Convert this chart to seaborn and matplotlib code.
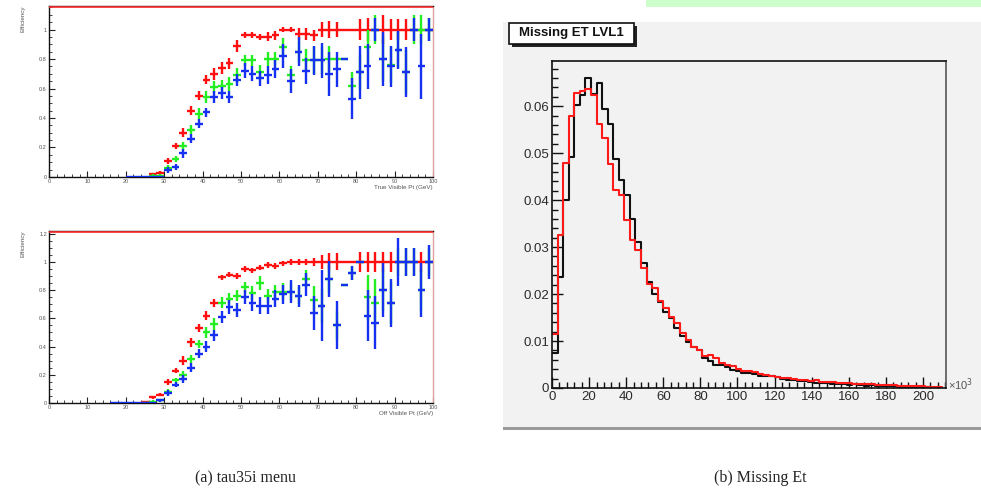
import numpy as np
import pandas as pd
import matplotlib
matplotlib.use("Agg")
import matplotlib.pyplot as plt
from matplotlib.ticker import MultipleLocator, FuncFormatter
from matplotlib.patches import Rectangle
import seaborn as sns

sns.set_theme(style="ticks")
plt.rcParams['font.family'] = ['Liberation Sans', 'DejaVu Sans']

# --- efficiency, tau35i menu (top: true visible pt)
pt_top = np.arange(21, 100, 2)
red_top = [np.nan, np.nan, np.nan,
           0.02, 0.03, 0.11, 0.21, 0.30, 0.45, 0.55, 0.66, 0.70, 0.74, 0.77, 0.89, 0.96, 0.96,
           0.95, 0.95, 0.96, 1.0, 1.0, 0.97, 0.97, 0.96, 1.0, 1.0, 1.0, 1.0, 1.0, 1.0, 1.0,
           1.0, 1.0, 1.0, 1.0, 1.0, 1.0, 1.0, 1.0]
red_top_err = [0, 0, 0,
               0.01, 0.01, 0.02, 0.02, 0.03, 0.03, 0.03, 0.03, 0.04, 0.04, 0.04, 0.04, 0.02, 0.02,
               0.02, 0.03, 0.03, 0.02, 0.02, 0.04, 0.04, 0.04, 0.05, 0.06, 0.05, 0.0, 0.0, 0.07,
               0.08, 0.0, 0.10, 0.07, 0.07, 0.07, 0.0, 0.0, 0.0]
green_top = [np.nan, np.nan, np.nan,
             0.01, 0.01, 0.06, 0.12, 0.21, 0.32, 0.43, 0.54, 0.61, 0.62, 0.63, 0.69, 0.79, 0.79,
             0.71, 0.80, 0.80, 0.88, 0.69, 0.85, 0.79, 0.79, 0.79, 0.80, 0.80, 0.80, 0.62, 0.71,
             0.88, 1.0, 0.80, 0.76, 0.86, 0.71, 1.0, 1.0, 1.0]
green_top_err = [0, 0, 0,
                 0.01, 0.01, 0.02, 0.02, 0.03, 0.03, 0.04, 0.04, 0.04, 0.04, 0.05, 0.05, 0.04, 0.04,
                 0.05, 0.05, 0.05, 0.06, 0.06, 0.07, 0.08, 0.09, 0.09, 0.09, 0.0, 0.0, 0.09, 0.12,
                 0.12, 0.10, 0.15, 0.12, 0.12, 0.15, 0.10, 0.10, 0.08]
blue_top = [0.0, 0.0, 0.0,
            0.0, 0.0, 0.05, 0.07, 0.16, 0.26, 0.36, 0.44, 0.54, 0.57, 0.54, 0.66, 0.72, 0.70,
            0.67, 0.69, 0.73, 0.82, 0.65, 0.85, 0.72, 0.79, 0.79, 0.70, 0.73, 0.80, 0.53, 0.71,
            0.75, 1.0, 0.80, 0.75, 0.86, 0.71, 1.0, 0.75, 1.0]
blue_top_err = [0, 0, 0,
                0.0, 0.0, 0.02, 0.02, 0.03, 0.03, 0.03, 0.03, 0.04, 0.04, 0.04, 0.04, 0.05, 0.05,
                0.05, 0.06, 0.06, 0.08, 0.08, 0.10, 0.09, 0.10, 0.12, 0.15, 0.12, 0.0, 0.14, 0.18,
                0.15, 0.08, 0.18, 0.14, 0.13, 0.17, 0.08, 0.22, 0.08]

# --- efficiency, tau35i menu (bottom: off visible pt)
pt_bot = np.arange(17, 100, 2)
red_bot = [np.nan, np.nan, np.nan, np.nan,
           0.005, 0.04, 0.06, 0.15, 0.23, 0.30, 0.43, 0.53, 0.62, 0.71, 0.89, 0.91, 0.90, 0.95,
           0.94, 0.96, 0.98, 0.97, 0.99,
           1.0, 1.0, 1.0, 1.0, 1.0, 1.0, 1.0, 1.0, 1.0, 1.0, 1.0, 1.0, 1.0, 1.0, 1.0, 1.0, 1.0,
           1.0, 1.0]
red_bot_err = [0, 0, 0, 0,
               0.005, 0.01, 0.01, 0.02, 0.02, 0.03, 0.03, 0.03, 0.03, 0.03, 0.02, 0.02, 0.02, 0.02,
               0.02, 0.02, 0.02, 0.02, 0.02,
               0.02, 0.02, 0.02, 0.03, 0.05, 0.06, 0.06, 0.0, 0.0, 0.07, 0.07, 0.07, 0.07, 0.07,
               0.0, 0.0, 0.0, 0.07, 0.0]
green_bot = [np.nan, np.nan, np.nan, np.nan,
             0.0, 0.01, 0.02, 0.08, 0.16, 0.20, 0.31, 0.42, 0.50, 0.56, 0.71, 0.74, 0.76, 0.82,
             0.78, 0.85, 0.76, 0.79, 0.79, 0.79, 0.76, 0.88, 0.73, 0.69, 0.88, 0.55, 0.84, 0.92,
             1.0, 0.75, 0.71, 0.80, 0.71, 1.0, 1.0, 1.0, 0.80, 1.0]
green_bot_err = [0, 0, 0, 0,
                 0.0, 0.01, 0.01, 0.02, 0.02, 0.03, 0.03, 0.03, 0.04, 0.04, 0.04, 0.04, 0.04, 0.04,
                 0.05, 0.05, 0.05, 0.05, 0.06, 0.06, 0.06, 0.06, 0.10, 0.12, 0.10, 0.10, 0.0, 0.05,
                 0.0, 0.16, 0.17, 0.15, 0.15, 0.10, 0.10, 0.10, 0.15, 0.10]
blue_bot = [0.0, 0.0, 0.0, 0.0,
            0.0, 0.0, 0.02, 0.07, 0.13, 0.17, 0.25, 0.35, 0.40, 0.48, 0.61, 0.68, 0.66, 0.75,
            0.71, 0.69, 0.69, 0.74, 0.77, 0.79, 0.76, 0.84, 0.64, 0.69, 0.88, 0.55, 0.84, 0.92,
            1.0, 0.62, 0.57, 0.80, 0.71, 1.0, 1.0, 1.0, 0.80, 1.0]
blue_bot_err = [0, 0, 0, 0,
                0.0, 0.0, 0.01, 0.02, 0.02, 0.03, 0.03, 0.03, 0.04, 0.04, 0.04, 0.05, 0.05, 0.05,
                0.06, 0.06, 0.06, 0.06, 0.07, 0.08, 0.08, 0.08, 0.12, 0.25, 0.13, 0.17, 0.0, 0.05,
                0.0, 0.18, 0.19, 0.19, 0.17, 0.17, 0.10, 0.10, 0.19, 0.12]

# --- missing ET LVL1 (x10^3), normalised histograms
et_bin_width = 3
et_black = [0.0075, 0.0236, 0.0400, 0.0492, 0.0603, 0.0624, 0.0660, 0.0625, 0.0650, 0.0595,
            0.0563, 0.0488, 0.0443, 0.0410, 0.0360, 0.0310, 0.0267, 0.0225, 0.0200, 0.0183,
            0.0162, 0.0148, 0.0128, 0.0111, 0.0098, 0.0088, 0.0080, 0.0064, 0.0057, 0.0049,
            0.0049, 0.0045, 0.0038, 0.0036, 0.0032, 0.0031, 0.0029, 0.0026, 0.0025, 0.0025,
            0.0023, 0.0019, 0.0018, 0.0016, 0.0014, 0.0015, 0.0012, 0.0011, 0.0010, 0.0011,
            0.0009, 0.0008, 0.0009, 0.0007, 0.0008, 0.0006, 0.0005, 0.0006, 0.0005, 0.0004,
            0.0004, 0.0004, 0.0003, 0.0003, 0.0003, 0.0002, 0.0002, 0.0002, 0.0001, 0.0001]
et_red = [0.0115, 0.0325, 0.0480, 0.0580, 0.0628, 0.0633, 0.0637, 0.0624, 0.0563, 0.0533,
          0.0476, 0.0421, 0.0410, 0.0357, 0.0316, 0.0293, 0.0256, 0.0222, 0.0212, 0.0186,
          0.0170, 0.0152, 0.0138, 0.0117, 0.0102, 0.0087, 0.0080, 0.0068, 0.0070, 0.0064,
          0.0053, 0.0049, 0.0047, 0.0041, 0.0037, 0.0036, 0.0033, 0.0030, 0.0028, 0.0026,
          0.0024, 0.0022, 0.0021, 0.0019, 0.0017, 0.0016, 0.0015, 0.0016, 0.0013, 0.0013,
          0.0012, 0.0011, 0.0011, 0.0010, 0.0009, 0.0009, 0.0008, 0.0008, 0.0007, 0.0007,
          0.0007, 0.0006, 0.0005, 0.0005, 0.0005, 0.0004, 0.0004, 0.0003, 0.0003, 0.0003]

RED, GREEN, BLUE = "#ff1010", "#22ee22", "#1530f0"

fig = plt.figure(figsize=(9.81, 4.93), dpi=100)
fig.patch.set_facecolor("white")

fmt = FuncFormatter(lambda v, p: f"{v:g}")


def eff_panel(rect, x, series, ymax, ytop, xlabel):
    ax = fig.add_axes(rect)
    for vals, errs, col in series:
        ax.errorbar(x, vals, yerr=errs, xerr=1, fmt="none", ecolor=col,
                    elinewidth=1.7, capsize=0, zorder=3)
    ax.axhline(ytop, color="#ff3030", lw=1.2, zorder=4)
    ax.set_xlim(0, 100)
    ax.set_ylim(0, ymax)
    ax.xaxis.set_major_locator(MultipleLocator(10))
    ax.xaxis.set_minor_locator(MultipleLocator(2))
    ax.yaxis.set_major_locator(MultipleLocator(0.2))
    ax.yaxis.set_minor_locator(MultipleLocator(0.05))
    ax.xaxis.set_major_formatter(fmt)
    ax.yaxis.set_major_formatter(fmt)
    ax.tick_params(which="both", direction="in", labelsize=4, colors="#222",
                   labelcolor="#555", pad=1.5)
    ax.tick_params(which="major", length=4, width=0.8)
    ax.tick_params(which="minor", length=2, width=0.6)
    for s in ax.spines.values():
        s.set_color("#111")
        s.set_linewidth(1.0)
    ax.spines["right"].set_color("#e0a0a0")
    ax.set_xlabel(xlabel, fontsize=4.5, color="#555", loc="right", labelpad=1)
    ax.set_ylabel("Efficiency", fontsize=4.5, color="#555", loc="top", labelpad=10)
    return ax


eff_panel([0.0499, 0.641, 0.3914, 0.347], pt_top,
          [(red_top, red_top_err, RED), (green_top, green_top_err, GREEN),
           (blue_top, blue_top_err, BLUE)],
          1.16, 1.155, "True Visible Pt (GeV)")
eff_panel([0.0499, 0.1826, 0.3914, 0.349], pt_bot,
          [(red_bot, red_bot_err, RED), (green_bot, green_bot_err, GREEN),
           (blue_bot, blue_bot_err, BLUE)],
          1.22, 1.215, "Off Visible Pt (GeV)")

# --- right hand ROOT canvas
fig.add_artist(Rectangle((0.5127, 0.1318), 0.4873, 0.8235, transform=fig.transFigure,
                         facecolor="#f2f2f2", edgecolor="none", zorder=0))
fig.add_artist(Rectangle((0.5127, 0.128), 0.4873, 0.006, transform=fig.transFigure,
                         facecolor="#9a9a9a", edgecolor="none", zorder=0))
fig.add_artist(Rectangle((0.6585, 0.986), 0.3415, 0.014, transform=fig.transFigure,
                         facecolor="#ccffcc", edgecolor="none", zorder=0))
# title box with its shadow
fig.add_artist(Rectangle((0.5219, 0.9047), 0.1274, 0.0426, transform=fig.transFigure,
                         facecolor="#222222", edgecolor="none", zorder=1))
fig.add_artist(Rectangle((0.5189, 0.9108), 0.1274, 0.0426, transform=fig.transFigure,
                         facecolor="white", edgecolor="#111111", lw=1.2, zorder=2))
fig.text(0.5826, 0.9321, "Missing ET LVL1", fontsize=9.5, color="#111", ha="center",
         va="center", fontweight="bold", zorder=3)

ax = fig.add_axes([0.5627, 0.213, 0.4016, 0.663])
ax.set_facecolor("#f2f2f2")
n_bins = len(et_black)
et_centers = et_bin_width * (np.arange(n_bins) + 0.5)
hist_df = pd.DataFrame({"met": et_centers, "black": et_black, "red": et_red})
for col, colour in [("black", "#111111"), ("red", "#ff1a1a")]:
    sns.histplot(data=hist_df, x="met", weights=col, binwidth=et_bin_width,
                 binrange=(0, et_bin_width * n_bins), element="step", fill=False,
                 color=colour, linewidth=1.5, ax=ax)
ax.set_xlim(0, 212.4)
ax.set_ylim(0, 0.0696)
ax.set_xlabel("")
ax.set_ylabel("")
ax.xaxis.set_major_locator(MultipleLocator(20))
ax.xaxis.set_minor_locator(MultipleLocator(4))
ax.yaxis.set_major_locator(MultipleLocator(0.01))
ax.yaxis.set_minor_locator(MultipleLocator(0.002))
ax.xaxis.set_major_formatter(fmt)
ax.yaxis.set_major_formatter(fmt)
ax.tick_params(which="both", direction="in", top=False, right=False,
               labelsize=9.5, labelcolor="#2a2a2a", color="#111", pad=2)
ax.tick_params(which="major", length=8, width=1.0)
ax.tick_params(which="minor", length=4, width=1.0)
for s in ax.spines.values():
    s.set_color("#111")
    s.set_linewidth(1.2)
ax.spines["right"].set_color("#555")

fig.text(0.966, 0.219, "×10$^3$", fontsize=8, color="#555", ha="left", va="center")

# --- captions
fig.text(0.25, 0.03, "(a) tau35i menu", fontsize=11.5, family="Liberation Serif",
         ha="center", va="center", color="#222")
fig.text(0.775, 0.03, "(b) Missing Et", fontsize=11.5, family="Liberation Serif",
         ha="center", va="center", color="#222")

fig.savefig("out.png", dpi=100)
